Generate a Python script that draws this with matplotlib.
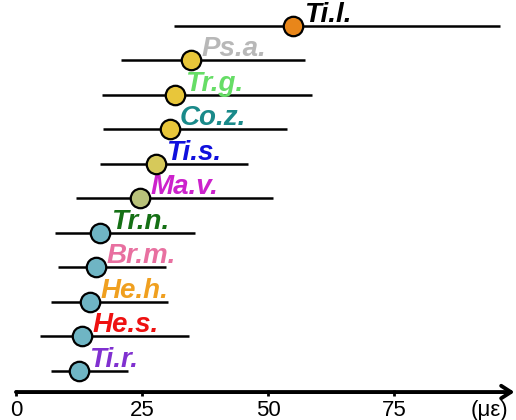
import matplotlib.pyplot as plt

# Species, mean strain and range (με)
species = ['Ti.r.', 'He.s.', 'He.h.', 'Br.m.', 'Tr.n.', 'Ma.v.',
           'Ti.s.', 'Co.z.', 'Tr.g.', 'Ps.a.', 'Ti.l.']
means = [12.5, 13.1, 14.7, 15.9, 16.7, 24.6, 27.8, 30.5, 31.5, 34.7, 55.0]
lows = [6.9, 4.8, 6.9, 8.3, 7.7, 11.9, 16.7, 17.3, 17.0, 20.8, 31.3]
highs = [22.2, 34.3, 30.2, 29.8, 35.5, 51.0, 46.0, 53.8, 58.7, 57.3, 96.0]
ticks = [0, 25, 50, 75]

label_colors = ['#8030D0', '#EE1111', '#F0A020', '#E870A0', '#157015', '#CC22CC',
                '#1010DD', '#1A8A8A', '#66DD66', '#B8B8B8', '#000000']
marker_colors = ['#6FB5C4', '#6FB5C4', '#6FB5C4', '#6FB5C4', '#6FB5C4', '#B9C27A',
                 '#D6C95A', '#E8C63A', '#E8C63A', '#E8C63A', '#E8861A']

plt.rcParams['font.family'] = ['Liberation Sans', 'DejaVu Sans']

fig = plt.figure(figsize=(5.16, 4.2), dpi=100)
ax = fig.add_axes([0, 0, 1, 1])
ax.set_xlim(-3.17, 99.2)
ax.set_ylim(-1.42, 10.75)
ax.axis('off')

for i, name in enumerate(species):
    ax.plot([lows[i], highs[i]], [i, i], color='black', lw=1.8,
            solid_capstyle='butt', zorder=1)
    ax.plot(means[i], i, 'o', ms=14, mfc=marker_colors[i], mec='black',
            mew=1.6, zorder=3)
    ax.annotate(name, (means[i], i), xytext=(7.5, 3), textcoords='offset points',
                ha='left', va='baseline', fontsize=20, fontweight='bold',
                fontstyle='italic', color=label_colors[i], zorder=2)

# Horizontal axis with arrowhead
axis_y = -0.61
ax.annotate('', xy=(98.9, axis_y), xytext=(0, axis_y), annotation_clip=False,
            arrowprops=dict(arrowstyle='->,head_length=0.7,head_width=0.45',
                            color='black', lw=2.8, shrinkA=0, shrinkB=0))
for t in ticks:
    ax.plot([t, t], [axis_y + 0.05, axis_y - 0.12], color='black', lw=2,
            solid_capstyle='butt')
    ax.text(t, axis_y - 0.24, str(t), ha='center', va='top', fontsize=16)
ax.text(94, axis_y - 0.24, '(με)', ha='center', va='top', fontsize=16)

fig.savefig('out.png', dpi=100)
